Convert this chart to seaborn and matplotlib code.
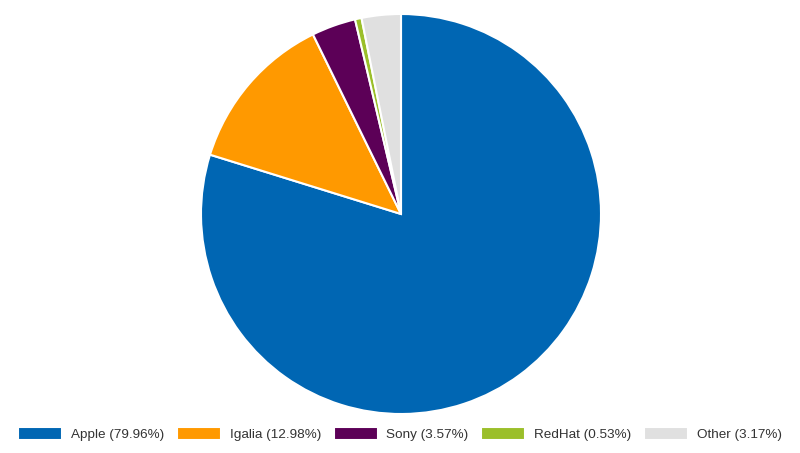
import matplotlib
matplotlib.use("Agg")
import matplotlib.pyplot as plt
import seaborn as sns

# data
labels = ["Apple", "Igalia", "Sony", "RedHat", "Other"]
shares = [79.96, 12.98, 3.57, 0.53, 3.17]
colors = ["#0066b3", "#ff9900", "#5c0057", "#9bbf2a", "#e0e0e0"]

sns.set_theme(style="white")
plt.rcParams["font.family"] = ["Liberation Sans", "DejaVu Sans"]

fig = plt.figure(figsize=(8, 4.53), dpi=100)
ax = fig.add_axes([0, 0, 1, 1])

# pie centred at (401, 214) px from top-left, radius 200 px
wedges, _ = ax.pie(shares, colors=colors, startangle=90, counterclock=False,
                   center=(401, 453 - 214), radius=200,
                   wedgeprops=dict(edgecolor="white", linewidth=1.5))
ax.set_xlim(0, 800)
ax.set_ylim(0, 453)
ax.set_aspect("equal")
ax.axis("off")

legend_labels = [f"{l} ({v:.2f}%)" for l, v in zip(labels, shares)]
fig.legend(wedges, legend_labels, loc="center", bbox_to_anchor=(0.5, 1 - 434 / 453),
           ncol=5, frameon=False, fontsize=9.7, handlelength=3.25, handleheight=1.05,
           handletextpad=0.65, columnspacing=0.95, labelcolor="#333333")

fig.savefig("out.png", dpi=100)
